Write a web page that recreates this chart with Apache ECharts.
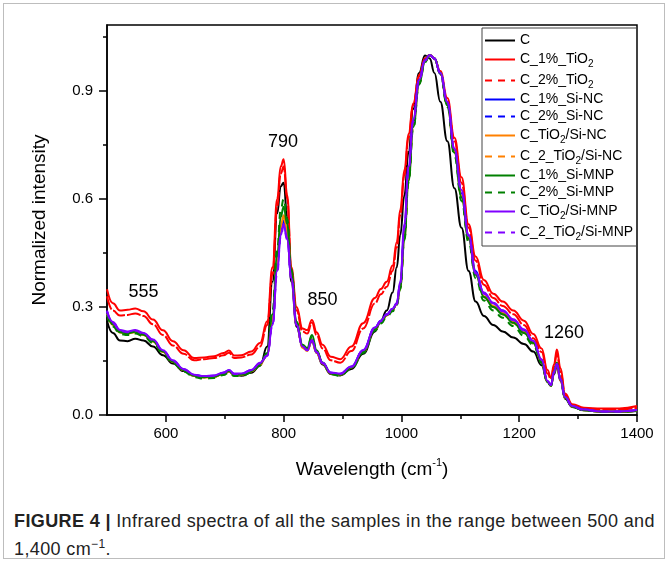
<!DOCTYPE html>
<html>
<head>
<meta charset="utf-8">
<script src="https://cdn.jsdelivr.net/npm/echarts@6/dist/echarts.min.js"></script>
<style>
  html, body { margin: 0; padding: 0; background: #fff; }
  #wrap { position: relative; width: 670px; height: 565px; overflow: hidden; }
  #frame { position: absolute; left: 3px; top: 3px; width: 662px; height: 556px; border: 1px solid #bdbdbd; box-sizing: border-box; }
  #chart { position: absolute; left: 0; top: 0; width: 670px; height: 500px; }
  #caption { position: absolute; left: 14px; top: 510px; width: 650px; font-family: "Liberation Sans", Arial, sans-serif; font-size: 18px; letter-spacing: 0.38px; line-height: 23px; color: #222; white-space: nowrap; }
  #caption b { font-weight: bold; }
</style>
</head>
<body>
<div id="wrap">
  <div id="frame"></div>
  <div id="chart"></div>
  <div id="caption"><b>FIGURE 4 |</b> Infrared spectra of all the samples in the range between 500 and<br>1,400 cm<sup style="font-size:12px;">−1</sup>.</div>
</div>
<script>
// Wavenumbers (cm-1) shared by all series
const W = [500,510,522,535,548,562,578,595,612,630,
  648,665,682,698,707,716,728,745,760,772,
  781,789,795,800,806,813,822,832,840,848,
  856,866,880,896,915,935,955,965,975,985,
  992,998,1005,1012,1020,1030,1040,1048,1056,1066,
  1078,1090,1102,1114,1126,1140,1156,1172,1190,1208,
  1224,1238,1248,1254,1259,1264,1270,1278,1290,1310,
  1340,1370,1400];

const C = [0.262,0.228,0.207,0.205,0.212,0.207,0.19,0.166,0.143,0.122,
  0.108,0.105,0.107,0.115,0.121,0.111,0.109,0.117,0.137,0.19,
  0.37,0.56,0.635,0.645,0.55,0.37,0.245,0.19,0.183,0.205,
  0.172,0.14,0.114,0.11,0.128,0.17,0.232,0.262,0.29,0.34,
  0.41,0.5,0.61,0.73,0.85,0.95,0.998,0.99,0.95,0.87,
  0.76,0.63,0.52,0.4,0.315,0.275,0.25,0.232,0.215,0.197,
  0.176,0.138,0.092,0.084,0.113,0.135,0.095,0.045,0.022,0.013,
  0.009,0.008,0.011];

const C_1TiO2 = [0.349,0.31,0.29,0.292,0.296,0.288,0.265,0.235,0.205,0.18,
  0.158,0.16,0.163,0.172,0.179,0.165,0.166,0.176,0.2,0.26,
  0.41,0.6,0.69,0.71,0.61,0.41,0.3,0.24,0.236,0.264,
  0.23,0.195,0.162,0.155,0.19,0.255,0.325,0.35,0.37,0.415,
  0.48,0.57,0.68,0.78,0.865,0.945,0.99,1.0,0.99,0.955,
  0.88,0.77,0.66,0.53,0.44,0.375,0.337,0.315,0.29,0.262,
  0.225,0.185,0.125,0.103,0.14,0.182,0.13,0.06,0.03,0.02,
  0.018,0.018,0.025];

const C_2TiO2 = [0.33,0.29,0.276,0.278,0.282,0.275,0.252,0.222,0.193,0.17,
  0.152,0.155,0.158,0.166,0.173,0.158,0.16,0.168,0.19,0.25,
  0.39,0.58,0.67,0.69,0.6,0.4,0.29,0.232,0.226,0.256,
  0.222,0.185,0.152,0.145,0.178,0.24,0.31,0.335,0.356,0.4,
  0.465,0.555,0.665,0.77,0.86,0.94,0.99,1.0,0.99,0.95,
  0.87,0.76,0.645,0.52,0.428,0.362,0.325,0.303,0.28,0.25,
  0.213,0.175,0.115,0.1,0.135,0.17,0.12,0.055,0.028,0.018,
  0.015,0.015,0.02];

const C_1SiNC = [0.288,0.256,0.234,0.23,0.234,0.226,0.208,0.178,0.15,0.127,
  0.111,0.107,0.109,0.117,0.124,0.114,0.114,0.124,0.143,0.166,
  0.255,0.405,0.505,0.54,0.5,0.385,0.252,0.19,0.18,0.21,
  0.175,0.145,0.117,0.114,0.134,0.18,0.242,0.262,0.28,0.295,
  0.31,0.365,0.51,0.67,0.815,0.93,0.985,1.0,0.99,0.95,
  0.865,0.735,0.615,0.5,0.4,0.338,0.31,0.29,0.264,0.234,
  0.202,0.148,0.092,0.083,0.118,0.14,0.099,0.049,0.025,0.015,
  0.01,0.01,0.013];

const C_2SiNC = [0.284,0.252,0.231,0.228,0.232,0.224,0.206,0.177,0.149,0.126,
  0.11,0.106,0.108,0.116,0.123,0.113,0.113,0.123,0.142,0.167,
  0.258,0.41,0.51,0.535,0.495,0.383,0.25,0.19,0.18,0.21,
  0.174,0.144,0.116,0.113,0.133,0.178,0.24,0.26,0.278,0.293,
  0.308,0.36,0.505,0.665,0.81,0.93,0.985,1.0,0.99,0.948,
  0.86,0.728,0.605,0.49,0.39,0.328,0.3,0.28,0.256,0.228,
  0.198,0.146,0.09,0.082,0.118,0.14,0.098,0.048,0.024,0.014,
  0.01,0.009,0.012];

const C_TiO2SiNC = [0.282,0.25,0.229,0.226,0.23,0.222,0.204,0.175,0.147,0.124,
  0.108,0.104,0.106,0.114,0.121,0.111,0.111,0.121,0.14,0.168,
  0.265,0.42,0.525,0.555,0.51,0.39,0.252,0.188,0.178,0.21,
  0.173,0.143,0.115,0.112,0.132,0.176,0.238,0.258,0.276,0.292,
  0.307,0.355,0.495,0.655,0.805,0.925,0.983,1.0,0.99,0.95,
  0.862,0.73,0.608,0.492,0.393,0.33,0.303,0.283,0.258,0.23,
  0.2,0.147,0.091,0.082,0.119,0.14,0.098,0.048,0.024,0.014,
  0.01,0.009,0.012];

const C_2TiO2SiNC = [0.28,0.249,0.228,0.225,0.229,0.221,0.203,0.174,0.146,0.123,
  0.107,0.103,0.105,0.113,0.12,0.11,0.11,0.12,0.139,0.167,
  0.262,0.415,0.52,0.548,0.505,0.387,0.25,0.187,0.177,0.208,
  0.172,0.142,0.114,0.111,0.131,0.175,0.236,0.256,0.274,0.29,
  0.305,0.352,0.49,0.65,0.8,0.922,0.982,1.0,0.99,0.95,
  0.862,0.73,0.607,0.49,0.39,0.328,0.3,0.28,0.255,0.228,
  0.199,0.146,0.09,0.081,0.118,0.139,0.097,0.047,0.023,0.013,
  0.009,0.009,0.012];

const C_1SiMNP = [0.285,0.252,0.23,0.227,0.231,0.223,0.205,0.176,0.148,0.125,
  0.109,0.105,0.107,0.115,0.122,0.112,0.112,0.122,0.142,0.172,
  0.28,0.44,0.55,0.578,0.53,0.4,0.258,0.195,0.186,0.222,
  0.18,0.146,0.116,0.112,0.132,0.176,0.238,0.258,0.277,0.292,
  0.308,0.355,0.49,0.65,0.8,0.92,0.98,1.0,0.99,0.95,
  0.86,0.728,0.605,0.49,0.39,0.328,0.3,0.28,0.256,0.228,
  0.2,0.148,0.091,0.082,0.12,0.145,0.1,0.048,0.023,0.013,
  0.009,0.009,0.012];

const C_2SiMNP = [0.278,0.246,0.225,0.222,0.226,0.219,0.2,0.172,0.144,0.121,
  0.105,0.101,0.103,0.111,0.118,0.108,0.108,0.118,0.138,0.172,
  0.29,0.46,0.57,0.6,0.545,0.405,0.258,0.193,0.184,0.218,
  0.178,0.143,0.113,0.109,0.129,0.172,0.234,0.254,0.272,0.288,
  0.305,0.35,0.485,0.645,0.795,0.918,0.98,1.0,0.99,0.948,
  0.855,0.72,0.595,0.48,0.38,0.318,0.29,0.27,0.247,0.22,
  0.194,0.145,0.09,0.081,0.118,0.143,0.099,0.047,0.023,0.013,
  0.009,0.009,0.012];

const C_TiO2SiMNP = [0.29,0.258,0.236,0.232,0.236,0.228,0.21,0.18,0.152,0.128,
  0.112,0.108,0.11,0.118,0.125,0.115,0.115,0.125,0.145,0.165,
  0.25,0.4,0.5,0.53,0.49,0.38,0.25,0.19,0.18,0.208,
  0.175,0.145,0.118,0.115,0.135,0.18,0.243,0.262,0.28,0.295,
  0.31,0.37,0.53,0.69,0.82,0.93,0.985,1.0,0.99,0.95,
  0.87,0.74,0.625,0.5,0.395,0.34,0.312,0.29,0.266,0.238,
  0.206,0.155,0.095,0.084,0.12,0.142,0.1,0.05,0.025,0.015,
  0.01,0.01,0.014];

const C_2TiO2SiMNP = [0.287,0.255,0.234,0.23,0.234,0.226,0.208,0.178,0.15,0.127,
  0.111,0.107,0.109,0.117,0.124,0.114,0.114,0.124,0.144,0.164,
  0.248,0.395,0.495,0.525,0.487,0.378,0.249,0.19,0.18,0.207,
  0.174,0.144,0.117,0.114,0.134,0.179,0.241,0.26,0.278,0.293,
  0.308,0.365,0.52,0.68,0.815,0.928,0.984,1.0,0.99,0.95,
  0.868,0.738,0.62,0.497,0.393,0.337,0.31,0.288,0.263,0.235,
  0.204,0.153,0.094,0.083,0.119,0.141,0.099,0.049,0.024,0.014,
  0.01,0.01,0.013];

const seriesNames = ['C','C_1%_TiO2','C_2%_TiO2','C_1%_Si-NC','C_2%_Si-NC','C_TiO2/Si-NC','C_2_TiO2/Si-NC','C_1%_Si-MNP','C_2%_Si-MNP','C_TiO2/Si-MNP','C_2_TiO2/Si-MNP'];
const seriesValues = [C, C_1TiO2, C_2TiO2, C_1SiNC, C_2SiNC, C_TiO2SiNC, C_2TiO2SiNC, C_1SiMNP, C_2SiMNP, C_TiO2SiMNP, C_2TiO2SiMNP];
const seriesColors = ['#000000','#ff0000','#ff0000','#0000ff','#0000ff','#ff8000','#ff8000','#008000','#008000','#8000ff','#8000ff'];
const seriesDashed = [false,false,true,false,true,false,true,false,true,false,true];

// tick positions
const xLabelTicks = [600,800,1000,1200,1400];
const xMinorTicks = [700,900,1100,1300];
const yLabelTicks = [0,0.3,0.6,0.9];
const yMinorTicks = [0.15,0.45,0.75,1.05];

// peak annotations
const annoX = [799,562,866,1276];
const annoY = [0.757,0.342,0.319,0.229];
const annoText = ['790','555','850','1260'];

const chart = echarts.init(document.getElementById('chart'), null, {renderer:'canvas'});
const FONT = '"Liberation Sans", Arial, sans-serif';

const series = seriesNames.map((name, k) => {
  const s = {
    name: name,
    type: 'line',
    xAxisIndex: 0,
    yAxisIndex: 0,
    data: W.map((w, i) => [w, seriesValues[k][i]]),
    showSymbol: false,
    symbol: 'none',
    smooth: 0.45,
    smoothMonotone: 'x',
    color: seriesColors[k],
    lineStyle: { width: 2, color: seriesColors[k], type: seriesDashed[k] ? (name === 'C_2%_TiO2' ? [14,2] : [7,6]) : 'solid' },
    emphasis: { disabled: true },
    silent: true,
    animation: false
  };
  if (k === 0) {
    s.markPoint = {
      symbol: 'circle',
      symbolSize: 0,
      silent: true,
      label: { show: true, position: 'inside', color: '#000', fontSize: 18, fontFamily: FONT,
               formatter: p => p.name },
      data: annoX.map((x, i) => ({ name: annoText[i], coord: [x, annoY[i]] }))
    };
  }
  return s;
});

function legendFmt(name) {
  return name.replace('TiO2', 'TiO{s|2}');
}

const option = {
  animation: false,
  grid: { left: 107, right: 33, top: 25, bottom: 85, show: true, borderColor: '#000', borderWidth: 1.5, backgroundColor: 'rgba(0,0,0,0)' },
  legend: {
    orient: 'vertical',
    left: 482, top: 28,
    padding: [5, 4, 4, 2],
    itemWidth: 30, itemHeight: 14, itemGap: 2,
    borderColor: '#444', borderWidth: 1,
    selectedMode: false,
    itemStyle: { opacity: 0, borderWidth: 0 },
    textStyle: { fontSize: 14, color: '#000', fontFamily: FONT, lineHeight: 15,
      rich: { s: { fontSize: 10, color: '#000', fontFamily: FONT, lineHeight: 19, verticalAlign: 'bottom' } } },
    formatter: legendFmt,
    data: seriesNames.map((n, k) => ({ name: n, itemStyle: { opacity: 0, borderWidth: 0 }, lineStyle: { type: seriesDashed[k] ? [7,6] : 'solid', width: 2, opacity: 1 } }))
  },
  xAxis: [{
    type: 'value', min: 500, max: 1400, position: 'bottom',
    axisLine: { show: true, lineStyle: { color: '#000', width: 1.5 } },
    axisTick: { show: true, length: 7, customValues: xLabelTicks, lineStyle: { color: '#000', width: 1.5 } },
    axisLabel: { show: true, customValues: xLabelTicks, fontSize: 15, color: '#000', fontFamily: FONT, margin: 11,
                 formatter: v => String(v) },
    splitLine: { show: false },
    name: '{a|Wavelength (cm}{b|-1}{a|)}',
    nameLocation: 'middle', nameGap: 42,
    nameTextStyle: { rich: { a: { fontSize: 19, color: '#000', fontFamily: FONT, lineHeight: 22, verticalAlign: 'bottom' },
                             b: { fontSize: 11, color: '#000', fontFamily: FONT, lineHeight: 22, verticalAlign: 'top' } } }
  }, {
    type: 'value', min: 500, max: 1400, position: 'bottom',
    axisLine: { show: false },
    axisTick: { show: true, length: 4, customValues: xMinorTicks, lineStyle: { color: '#000', width: 1.5 } },
    axisLabel: { show: false },
    splitLine: { show: false }
  }],
  yAxis: [{
    type: 'value', min: 0, max: 1.083, position: 'left',
    axisLine: { show: true, lineStyle: { color: '#000', width: 1.5 } },
    axisTick: { show: true, length: 8, customValues: yLabelTicks, lineStyle: { color: '#000', width: 1.5 } },
    axisLabel: { show: true, customValues: yLabelTicks, fontSize: 15, color: '#000', fontFamily: FONT, margin: 14,
                 formatter: v => v.toFixed(1) },
    splitLine: { show: false },
    name: 'Normalized intensity',
    nameLocation: 'middle', nameGap: 58,
    nameTextStyle: { fontSize: 19, color: '#000', fontFamily: FONT }
  }, {
    type: 'value', min: 0, max: 1.083, position: 'left',
    axisLine: { show: false },
    axisTick: { show: true, length: 4, customValues: yMinorTicks, lineStyle: { color: '#000', width: 1.5 } },
    axisLabel: { show: false },
    splitLine: { show: false }
  }],
  series: series
};
chart.setOption(option);
</script>
</body>
</html>
